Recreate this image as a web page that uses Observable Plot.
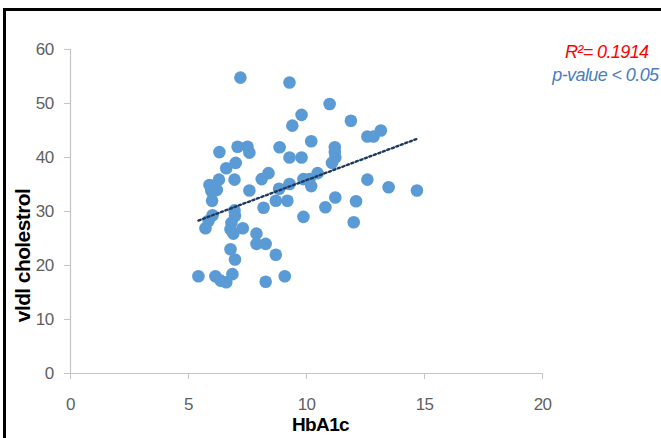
<!DOCTYPE html>
<html>
<head>
<meta charset="utf-8">
<script src="https://cdn.jsdelivr.net/npm/d3@7"></script>
<script src="https://cdn.jsdelivr.net/npm/@observablehq/plot@0.6"></script>
<style>
  html, body { margin: 0; padding: 0; background: #fff; overflow: hidden; }
  #wrap { position: relative; width: 661px; height: 438px; }
  #border { position: absolute; left: 3px; top: 8px; width: 720px; height: 500px;
            border: 3px solid #000; pointer-events: none; }
  /* tighter, condensed-looking labels */
  #chart g[aria-label="x-axis tick label"] text,
  #chart g[aria-label="y-axis tick label"] text { letter-spacing: -0.6px; }
  #chart g[aria-label="text"] text { letter-spacing: -0.6px; }
</style>
</head>
<body>
<div id="wrap"><div id="chart"></div><div id="border"></div></div>
<script>
// HbA1c (%) and VLDL cholesterol for each patient
const hba1c = [
  5.42, 5.72, 5.85, 6.02, 5.89, 5.97, 6.2, 6.0, 6.29, 6.31,
  6.14, 6.36, 6.6, 6.86, 6.6, 6.78, 6.97, 6.9, 6.78, 6.82,
  6.97, 6.95, 6.95, 7.0, 7.08, 7.2, 7.3, 7.5, 7.58, 7.58,
  7.88, 7.88, 8.1, 8.18, 8.27, 8.27, 8.39, 8.7, 8.7, 8.84,
  8.86, 9.08, 9.19, 9.28, 9.28, 9.28, 9.4, 9.79, 9.79, 9.87,
  9.87, 10.13, 10.2, 10.2, 10.47, 10.8, 10.98, 11.08, 11.2, 11.2,
  11.22, 11.22, 11.88, 12.0, 12.1, 12.58, 12.58, 12.84, 13.15, 13.48,
  14.68
];
const vldl = [
  18.0, 26.9, 28.3, 29.3, 34.9, 33.8, 34.0, 32.0, 35.9, 41.0,
  18.0, 17.2, 16.9, 18.4, 38.0, 23.0, 21.1, 25.9, 26.7, 27.9,
  29.2, 30.2, 35.9, 39.0, 42.0, 54.8, 26.9, 42.0, 40.9, 33.9,
  25.9, 24.0, 36.0, 30.7, 24.0, 17.0, 37.1, 32.0, 22.0, 34.2,
  41.9, 18.0, 32.0, 35.1, 40.0, 53.9, 45.9, 47.9, 40.0, 36.0,
  29.0, 36.0, 43.0, 34.7, 37.1, 30.8, 49.9, 39.0, 41.9, 41.0,
  40.0, 32.6, 46.8, 28.0, 31.9, 43.9, 35.9, 43.9, 45.0, 34.5,
  33.9
];
const xTicks = [0, 5, 10, 15, 20];
const yTicks = [0, 10, 20, 30, 40, 50, 60];
const rSquaredLabel = "R²= 0.1914";
const pValueLabel = "p-value < 0.05";

const points = hba1c.map((x, i) => ({x, y: vldl[i]}));

const sans = "'Liberation Sans Narrow', 'Liberation Sans', Arial, sans-serif";
const axisGray = "#c4c4c4";
const labelGray = "#5f5f5f";

const chart = Plot.plot({
  width: 661,
  height: 438,
  marginLeft: 70,
  marginRight: 119,
  marginTop: 49,
  marginBottom: 65,
  style: {fontFamily: sans, background: "#fff", overflow: "visible"},
  x: {domain: [0, 20]},
  y: {domain: [0, 60]},
  marks: [
    Plot.ruleX([0], {stroke: axisGray, strokeWidth: 1.2}),
    Plot.ruleY([0], {stroke: axisGray, strokeWidth: 1.2}),
    Plot.axisX({ticks: xTicks, tickSize: 6, tickPadding: 18, stroke: axisGray,
                fill: labelGray, fontSize: 17, label: null}),
    Plot.axisY({ticks: yTicks, tickSize: 6, tickPadding: 11, stroke: axisGray,
                fill: labelGray, fontSize: 17, label: null}),
    Plot.dot(points, {x: "x", y: "y", r: 6.3, fill: "#5b9bd5", stroke: "none"}),
    Plot.linearRegressionY(points, {x: "x", y: "y", ci: 0, stroke: "#1f3a5f",
                strokeWidth: 2.4, strokeDasharray: "2.2 2.6"}),
    Plot.text(["vldl cholestrol"], {text: d => d, frameAnchor: "left", textAnchor: "middle",
                dx: -47, dy: 44, rotate: -90, fontSize: 21, fontWeight: "bold", fill: "#000",
                fontFamily: "'Liberation Sans', Arial, sans-serif"}),
    Plot.text(["HbA1c"], {text: d => d, frameAnchor: "bottom", textAnchor: "middle",
                dx: 14, dy: 51, fontSize: 19, fontWeight: "bold", fill: "#000",
                lineAnchor: "middle"}),
    Plot.text([rSquaredLabel], {text: d => d, frameAnchor: "top-right", dx: 106, dy: -4,
                textAnchor: "end", fontSize: 18, fontStyle: "italic", fill: "#ff0000"}),
    Plot.text([pValueLabel], {text: d => d, frameAnchor: "top-right", dx: 116, dy: 19,
                textAnchor: "end", fontSize: 18, fontStyle: "italic", fill: "#4a7ebb"})
  ]
});
document.getElementById("chart").appendChild(chart);
</script>
</body>
</html>
